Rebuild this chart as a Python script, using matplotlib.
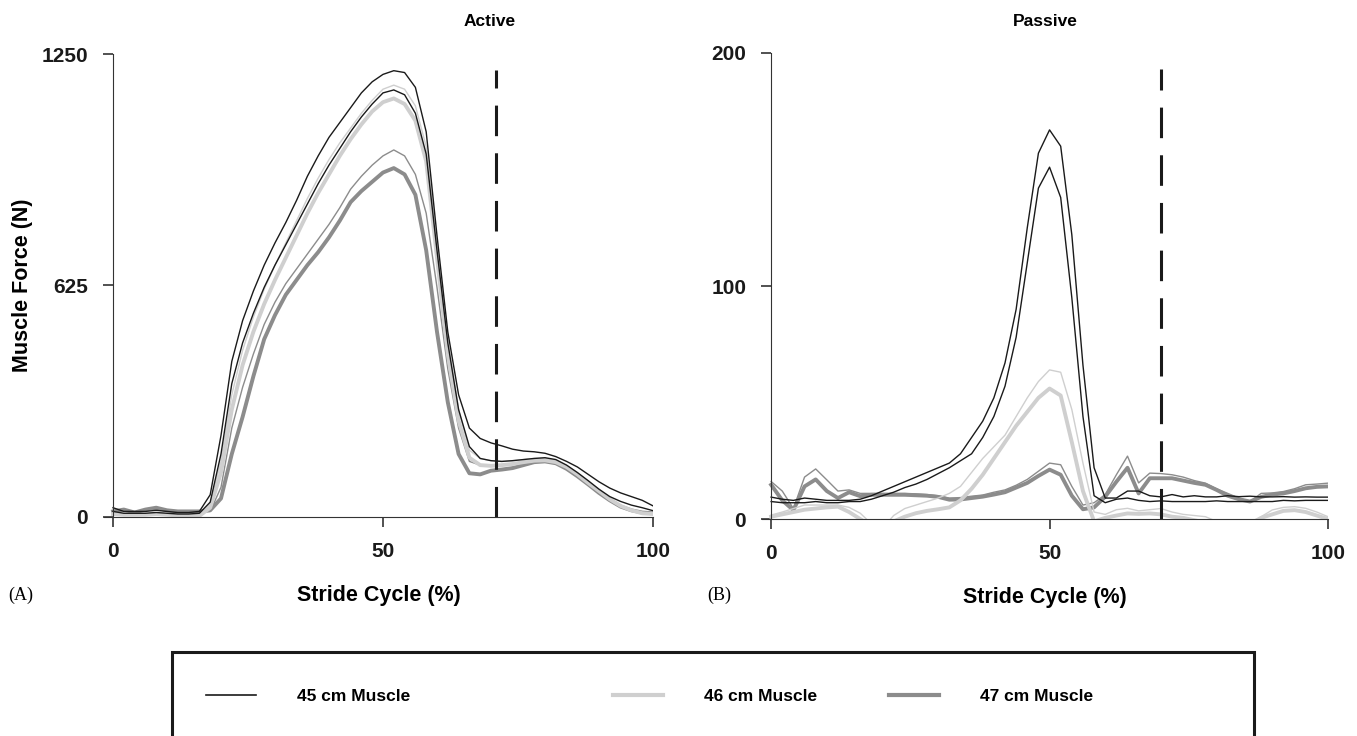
import matplotlib.pyplot as plt
from matplotlib.lines import Line2D
from matplotlib.patches import Rectangle

plt.rcParams['font.family'] = ['Liberation Sans', 'DejaVu Sans']
plt.rcParams['font.weight'] = 'bold'

# stride cycle (%) sample points
x = list(range(0, 101, 2))

# ---- Active muscle force (N) ----
act_45a = [25, 15, 15, 15, 18, 15, 12, 12, 15, 60,
           220, 420, 530, 610, 680, 740, 795, 855, 920, 975,
           1025, 1065, 1105, 1145, 1175, 1195, 1205, 1200, 1160, 1040,
           760, 500, 330, 240, 212, 200, 192, 183, 178, 176,
           172, 163, 150, 135, 115, 95, 78, 65, 55, 45,
           30]
act_45b = [15, 10, 10, 10, 12, 10, 8, 8, 10, 40,
           170, 360, 470, 550, 620, 680, 735, 790, 845, 900,
           950, 995, 1040, 1080, 1115, 1145, 1153, 1140, 1090, 980,
           720, 470, 290, 190, 158, 152, 150, 152, 155, 158,
           160, 155, 140, 120, 98, 75, 55, 42, 32, 25,
           17]
act_46a = [10, 8, 8, 8, 10, 8, 6, 5, 5, 35,
           150, 330, 450, 540, 615, 680, 740, 800, 860, 915,
           965, 1010, 1050, 1090, 1125, 1155, 1166, 1155, 1110, 1000,
           740, 480, 290, 180, 158, 152, 150, 152, 155, 158,
           158, 152, 138, 118, 95, 72, 50, 32, 20, 12,
           10]
act_46b = [8, 6, 6, 6, 8, 6, 4, 3, 3, 25,
           120, 290, 410, 500, 575, 640, 700, 760, 820, 875,
           925, 975, 1020, 1060, 1095, 1120, 1130, 1115, 1070, 960,
           700, 440, 260, 160, 140, 138, 140, 143, 148, 152,
           153, 148, 135, 115, 92, 70, 48, 30, 18, 10,
           8]
act_47a = [15, 18, 12, 18, 22, 16, 14, 14, 14, 15,
           80, 240, 350, 440, 520, 580, 630, 670, 710, 750,
           790, 835, 885, 920, 950, 975, 991, 975, 925, 820,
           620, 400, 240, 150, 140, 138, 140, 143, 148, 152,
           153, 148, 135, 115, 92, 70, 48, 30, 18, 12,
           10]
act_47b = [15, 20, 12, 20, 25, 18, 15, 15, 15, 18,
           50, 170, 270, 380, 480, 545, 600, 640, 680, 715,
           755, 800, 850, 880, 905, 930, 942, 925, 870, 720,
           500, 310, 170, 118, 115, 125, 128, 132, 140, 148,
           150, 145, 130, 110, 88, 65, 45, 28, 18, 12,
           10]

# ---- Passive muscle force (N) ----
pas_45a = [9.4, 8.5, 8, 9, 8.5, 8, 8, 8, 8.5, 10,
           12, 14, 16, 18, 20, 22, 24, 28, 35, 42,
           52, 67, 90, 125, 157, 167, 160, 122, 66, 22,
           9, 9, 12, 12, 10, 9.5, 10.5, 9.5, 10, 9.5,
           9.5, 10, 9.6, 9.8, 9.5, 9.5, 9.6, 9.4, 9.5, 9.4,
           9.4]
pas_45b = [7.5, 7, 7, 7, 7.5, 7, 7, 7.5, 7.5, 8.5,
           10, 11.5, 13.5, 15, 17, 19.5, 22, 25, 28, 35,
           44, 57, 78, 110, 142, 151, 138, 95, 44, 10,
           7, 8.5, 9, 8, 7.5, 7.8, 7.5, 7.5, 7.5, 7.5,
           7.8, 7.5, 7.5, 7.5, 7.5, 7.5, 8, 7.8, 8, 8,
           8]
pas_46a = [1.7, 3, 4.5, 6, 6, 6, 6, 5, 2.5, -2,
           -4, 1.5, 4.5, 6, 7.5, 9, 11, 14, 20, 26,
           31, 36, 44, 52, 59, 64, 63, 47, 24, 3,
           2, 4, 4.6, 3.5, 4, 4.5, 3, 2, 1.5, 1,
           -1, -3, -4, -3, 1, 3.9, 5, 5.3, 4.6, 3,
           1]
pas_46b = [1, 2, 3, 4, 4.5, 5, 5.3, 3, 0, -3,
           -4, -1, 1, 2.5, 3.5, 4.2, 5, 8, 13, 19,
           26, 33, 40, 46, 52, 56, 53, 33, 12, -1,
           0.5, 1.5, 2.4, 2.2, 2.4, 2, 1, 0.5, -0.5, -1.5,
           -3, -4, -4, -2, 0.5, 2, 3.5, 3.8, 3, 1.5,
           0]
pas_47a = [16.1, 12, 4.5, 18, 21.5, 16.8, 12, 12.5, 11, 11,
           11, 11, 11, 10.8, 10.5, 10, 9, 9.2, 9.8, 10.3,
           11.5, 12.5, 14.5, 17, 20.5, 24, 23.3, 14, 6, 7,
           10.5, 19, 27, 15.5, 19.7, 19.5, 19, 18, 16.5, 15.4,
           13, 11, 9, 7.5, 11, 11.2, 11.8, 13, 14.7, 15,
           15.4]
pas_47b = [14.7, 8, 3.8, 14, 17, 12, 9, 11.5, 9.8, 10.4,
           10.4, 10.4, 10.4, 10.2, 10, 9.5, 8.3, 8.4, 9, 9.6,
           10.5, 11.5, 13.5, 15.5, 18.5, 21.2, 19, 10, 4.2, 5,
           9.6, 16, 22, 11, 17.5, 17.5, 17.5, 16.5, 15.5, 14.7,
           12.5, 10, 8.5, 7.5, 9.5, 10.5, 11, 12, 13.2, 13.8,
           14]

active = [act_45a, act_45b, act_46a, act_46b, act_47a, act_47b]
passive = [pas_45a, pas_45b, pas_46a, pas_46b, pas_47a, pas_47b]

# colour, width for each of the six traces
black, light, dark = '#1a1a1a', '#cfcfcf', '#8c8c8c'
styles = [(black, 1.0), (black, 1.0), (light, 1.0), (light, 2.8), (dark, 1.0), (dark, 2.8)]
draw_order = [4, 5, 2, 3, 1, 0]

legend_labels = ['45 cm Muscle', '46 cm Muscle', '47 cm Muscle']

fig = plt.figure(figsize=(13.57, 7.36), dpi=100)
ax1 = fig.add_axes([0.0769, 0.2976, 0.4043, 0.6290])
ax2 = fig.add_axes([0.5617, 0.2948, 0.4169, 0.6332])


def panel(ax, series, ymax, yticks, dash_x):
    for i in draw_order:
        c, lw = styles[i]
        ax.plot(x, series[i], color=c, lw=lw, solid_joinstyle='round')
    ax.axvline(dash_x, ymax=0.966, color='#1a1a1a', lw=2.2, dashes=(10, 5.6))
    ax.set_xlim(-1.6, 100)
    ax.set_ylim(0, ymax)
    ax.spines['top'].set_visible(False)
    ax.spines['right'].set_visible(False)
    ax.spines['left'].set_position(('data', 0))
    ax.spines['left'].set_color('#333333')
    ax.spines['bottom'].set_color('#333333')
    ax.set_xticks([0, 50, 100])
    ax.set_yticks(yticks)
    ax.tick_params(direction='out', length=7, width=1.2, colors='#333333',
                   labelcolor='#1a1a1a', labelsize=15, pad=11)
    for lab in ax.get_xticklabels() + ax.get_yticklabels():
        lab.set_fontweight('bold')
    ax.set_xlabel('Stride Cycle (%)', fontsize=15.5, fontweight='bold', labelpad=17)


panel(ax1, active, 1250, [0, 625, 1250], 71)
panel(ax2, passive, 200, [0, 100, 200], 70)
ax1.set_ylabel('Muscle Force (N)', fontsize=15.5, fontweight='bold', labelpad=6)

fig.text(490 / 1357, 1 - 21 / 736, 'Active', ha='center', va='center', fontsize=12.5, fontweight='bold')
fig.text(1045 / 1357, 1 - 21 / 736, 'Passive', ha='center', va='center', fontsize=12.5, fontweight='bold')

fig.text(0.006, 0.185, '(A)', family='Liberation Serif', fontweight='normal', fontsize=13)
fig.text(0.521, 0.185, '(B)', family='Liberation Serif', fontweight='normal', fontsize=13)

# legend frame running off the bottom of the page
fig.patches.append(Rectangle((172 / 1357, -0.01), (1254 - 172) / 1357, (736 - 652) / 736 + 0.01,
                             transform=fig.transFigure, fill=False, ec='#1a1a1a', lw=2.2))
handles = [Line2D([], [], color=black, lw=1.2),
           Line2D([], [], color=light, lw=3),
           Line2D([], [], color=dark, lw=3)]
for h, lab, xpos in zip(handles, legend_labels, [190, 597, 873]):
    fig.legend(handles=[h], labels=[lab], loc='center left', bbox_to_anchor=(xpos / 1357, 0.054),
               frameon=False, handlelength=2.9, handletextpad=2.35, prop={'size': 12.5, 'weight': 'bold'})

fig.savefig('out.png', dpi=100)
